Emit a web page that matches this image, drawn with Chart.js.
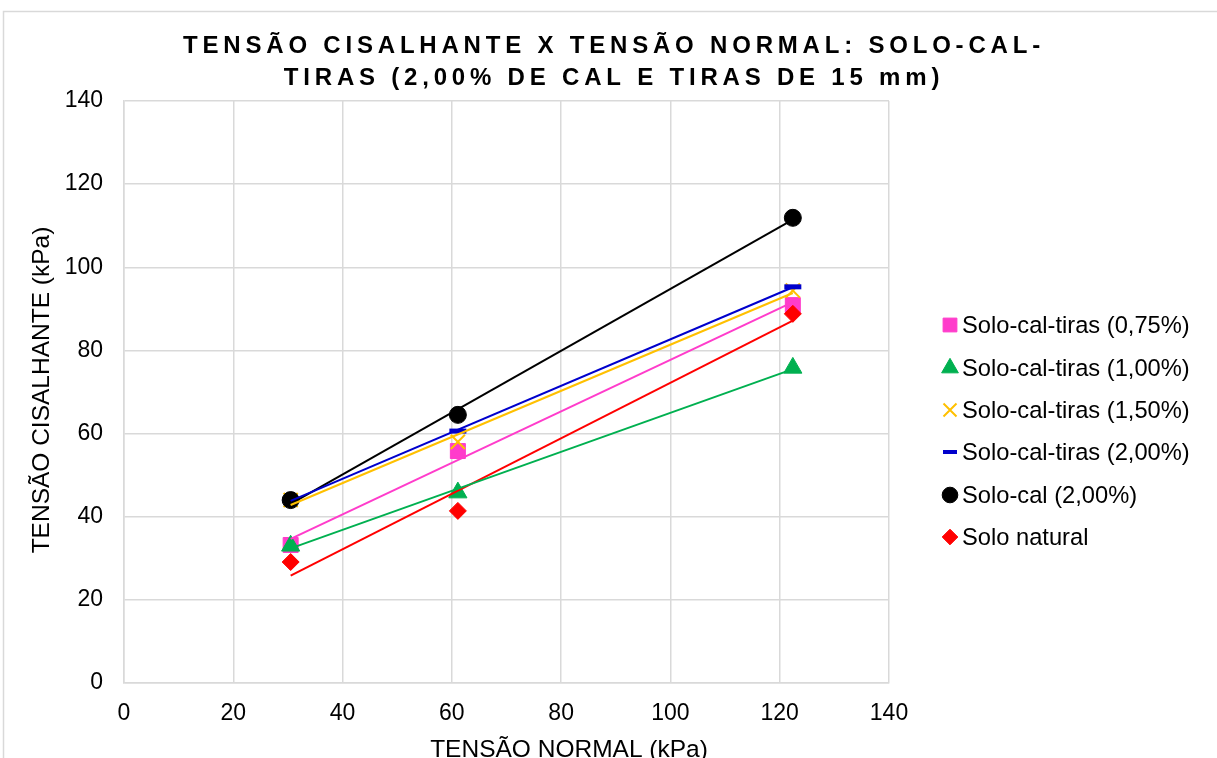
<!DOCTYPE html>
<html>
<head>
<meta charset="utf-8">
<script src="https://cdn.jsdelivr.net/npm/chart.js@4/dist/chart.umd.min.js"></script>
<style>
  html, body { margin: 0; padding: 0; background: #fff; }
  #wrap { width: 1217px; height: 758px; position: relative; }
</style>
</head>
<body>
<div id="wrap"><canvas id="c" width="1217" height="758"></canvas></div>
<script>
// Normal stress applied in the shear tests (kPa)
const normalStress = [30.5, 61.1, 122.4];

// Shear stress at failure (kPa) for each mixture
const soloCalTiras075 = [33.2, 55.8, 90.9];
const soloCalTiras100 = [33.0, 45.8, 75.8];
const soloCalTiras150 = [44.0, 58.0, 94.4];
const soloCalTiras200 = [44.0, 60.6, 95.3];
const soloCal200      = [44.0, 64.5, 111.9];
const soloNatural     = [29.1, 41.4, 88.8];

const seriesNames = [
  'Solo-cal-tiras (0,75%)',
  'Solo-cal-tiras (1,00%)',
  'Solo-cal-tiras (1,50%)',
  'Solo-cal-tiras (2,00%)',
  'Solo-cal (2,00%)',
  'Solo natural'
];
const axisTicks = [0, 20, 40, 60, 80, 100, 120, 140];

const titleLines = ['TENSÃO CISALHANTE X TENSÃO NORMAL: SOLO-CAL-', 'TIRAS (2,00% DE CAL E TIRAS DE 15 mm)'];
const xTitle = 'TENSÃO NORMAL (kPa)';
const yTitle = 'TENSÃO CISALHANTE (kPa)';

const FONT = "'Liberation Sans', Arial, sans-serif";

// marker styling per series
const styles = [
  { color: '#FF3CCB', pointStyle: 'rect',     radius: 10.6, line: '#FF3CCB', order: 6 },
  { color: '#00B050', pointStyle: 'triangle', radius: 10.5, line: '#00B050', order: 5 },
  { color: '#FFC000', pointStyle: 'crossRot', radius: 10,   line: '#FFC000', order: 4, stroke: 2 },
  { color: '#0000CC', pointStyle: 'line',     radius: 8.5,  line: '#0000CC', order: 3, stroke: 5 },
  { color: '#000000', pointStyle: 'circle',   radius: 8.5,  line: '#000000', order: 2 },
  { color: '#FF0000', pointStyle: 'rectRot',  radius: 8.5,  line: '#FF0000', order: 1 }
];
const allSeries = [soloCalTiras075, soloCalTiras100, soloCalTiras150, soloCalTiras200, soloCal200, soloNatural];

// least-squares linear trendline spanning the tested normal stresses
function trend(xs, ys) {
  const n = xs.length;
  const mx = xs.reduce((a, b) => a + b, 0) / n;
  const my = ys.reduce((a, b) => a + b, 0) / n;
  let sxy = 0, sxx = 0;
  for (let i = 0; i < n; i++) { sxy += (xs[i] - mx) * (ys[i] - my); sxx += (xs[i] - mx) ** 2; }
  const m = sxy / sxx, b = my - m * mx;
  const x0 = Math.min(...xs), x1 = Math.max(...xs);
  return [{ x: x0, y: m * x0 + b }, { x: x1, y: m * x1 + b }];
}

const datasets = [];
allSeries.forEach((ys, i) => {
  const s = styles[i];
  datasets.push({
    label: seriesNames[i],
    data: ys.map((y, k) => ({ x: normalStress[k], y })),
    showLine: false,
    pointStyle: s.pointStyle,
    pointRadius: s.radius,
    pointHoverRadius: s.radius,
    pointBackgroundColor: s.color,
    pointBorderColor: s.color,
    pointBorderWidth: s.stroke || 1,
    order: s.order
  });
});
allSeries.forEach((ys, i) => {
  const s = styles[i];
  datasets.push({
    label: seriesNames[i] + ' (linear)',
    data: trend(normalStress, ys),
    showLine: true,
    pointRadius: 0,
    borderColor: s.line,
    borderWidth: 2,
    fill: false,
    order: 0
  });
});

const decor = {
  id: 'decor',
  beforeDraw(chart) {
    const ctx = chart.ctx;
    ctx.save();
    ctx.strokeStyle = '#d9d9d9';
    ctx.lineWidth = 1.5;
    ctx.strokeRect(3.5, 11.5, 1300, 900);
    ctx.restore();
  },
  afterDraw(chart) {
    const ctx = chart.ctx;
    ctx.save();
    ctx.fillStyle = '#000';
    // chart title
    ctx.font = 'bold 24px ' + FONT;
    ctx.textAlign = 'center';
    ctx.textBaseline = 'middle';
    if ('letterSpacing' in ctx) ctx.letterSpacing = '4.8px';
    ctx.fillText(titleLines[0], 614, 46);
    ctx.fillText(titleLines[1], 614, 78);
    if ('letterSpacing' in ctx) ctx.letterSpacing = '0px';

    // axis titles
    ctx.font = '24.5px ' + FONT;
    ctx.fillText(xTitle, 569, 750);
    ctx.save();
    ctx.translate(42, 390);
    ctx.rotate(-Math.PI / 2);
    ctx.fillText(yTitle, 0, 0);
    ctx.restore();

    // legend
    const rows = [325, 368, 410, 452, 495, 537];
    ctx.font = '23.7px ' + FONT;
    ctx.textAlign = 'left';
    seriesNames.forEach((name, i) => {
      const s = styles[i];
      const opts = {
        pointStyle: s.pointStyle,
        radius: s.pointStyle === 'line' ? 7 : s.radius * 0.92,
        rotation: 0,
        borderWidth: s.pointStyle === 'line' ? 4 : (s.stroke || 1)
      };
      ctx.fillStyle = s.color;
      ctx.strokeStyle = s.color;
      ctx.lineWidth = opts.borderWidth;
      Chart.helpers.drawPoint(ctx, opts, 950, rows[i]);
      ctx.fillStyle = '#000';
      ctx.fillText(name, 962, rows[i] + 1);
    });
    ctx.restore();
  }
};

new Chart(document.getElementById('c'), {
  type: 'scatter',
  data: { datasets },
  options: {
    responsive: false,
    animation: false,
    layout: { padding: { left: 0, top: 101, right: 328, bottom: 0 } },
    plugins: { legend: { display: false }, title: { display: false }, tooltip: { enabled: false } },
    scales: {
      x: {
        type: 'linear',
        min: 0, max: 140,
        afterBuildTicks(scale) { scale.ticks = axisTicks.map(v => ({ value: v })); },
        afterFit(scale) { scale.height = 75; },
        grid: { color: '#d9d9d9', lineWidth: 1.5, drawTicks: false },
        border: { color: '#d9d9d9', width: 1.5 },
        ticks: { color: '#000', font: { family: FONT, size: 23 }, padding: 17, maxRotation: 0 }
      },
      y: {
        type: 'linear',
        min: 0, max: 140,
        afterBuildTicks(scale) { scale.ticks = axisTicks.map(v => ({ value: v })); },
        afterFit(scale) { scale.width = 124; },
        grid: { color: '#d9d9d9', lineWidth: 1.5, drawTicks: false },
        border: { color: '#d9d9d9', width: 1.5 },
        ticks: { color: '#000', font: { family: FONT, size: 23 }, padding: 21 }
      }
    }
  },
  plugins: [decor]
});
</script>
</body>
</html>
